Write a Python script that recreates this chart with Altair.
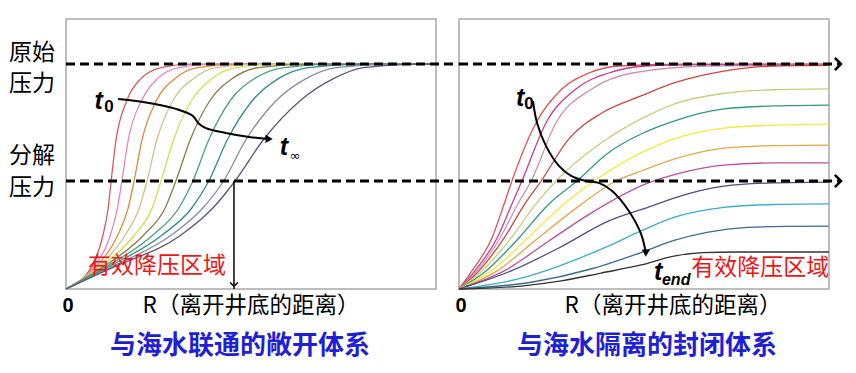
import altair as alt
import pandas as pd

# ---------------- data (x: distance 0-100, y: pressure 0-100) ----------------
P_ORIG = 83.3   # 原始压力
P_DEC = 40.0    # 分解压力

# Left panel (open system): pressure levels and x positions of each curve at those levels
left_levels = [0, 8, 20, 30, 40, 55, 70, 78, 82, 83.3]
left_names = ["L1", "L2", "L3", "L4", "L5", "L6", "L7", "L8", "L9", "L10"]
left_colors = ["#d65a5a", "#e284c8", "#e08a3c", "#d6bf8e", "#cfe050",
               "#8c7a48", "#4aa37c", "#2f8c8a", "#8a8aa6", "#5a5878"]
left_x = [
    [0, 6.8, 10.0, 11.4, 12.2, 13.5, 16.5, 20.3, 25.7, 33.8],
    [0, 7.3, 12.0, 13.9, 15.1, 16.8, 20.5, 24.8, 30.5, 40.0],
    [0, 7.9, 14.0, 16.8, 18.4, 20.5, 24.5, 29.5, 35.5, 46.0],
    [0, 8.5, 16.0, 19.8, 21.9, 24.5, 29.0, 34.5, 40.5, 52.0],
    [0, 9.1, 18.5, 23.3, 25.7, 29.0, 34.0, 39.5, 46.0, 58.0],
    [0, 9.8, 21.0, 26.8, 29.7, 33.5, 39.0, 45.0, 52.0, 65.0],
    [0, 10.5, 23.5, 30.5, 34.3, 38.5, 44.5, 51.0, 59.0, 72.0],
    [0, 11.2, 26.0, 34.0, 38.6, 43.5, 50.5, 57.5, 65.5, 80.0],
    [0, 12.0, 28.5, 37.0, 42.6, 48.5, 57.0, 65.0, 73.0, 88.0],
    [0, 12.7, 31.1, 39.7, 45.7, 53.2, 63.5, 72.4, 80.3, 94.6],
]

# Right panel (closed system): each curve as x list and y list
right_names = ["R1", "R2", "R3", "R4", "R5", "R6", "R7", "R8", "R9", "R10", "R11", "R12", "R13"]
right_colors = ["#d9534f", "#c23a9e", "#c895b0", "#c9473d", "#cccc80", "#2f9a7c", "#f4ea3c",
                "#e3a648", "#b8509e", "#50507e", "#3aaccc", "#3c6c8c", "#333333"]
right_x = [
    [0, 3.5, 8.9, 12.2, 14.3, 20.8, 27.8, 35.1, 43.2, 60.0, 100],
    [0, 4.3, 10.3, 14.3, 17.0, 23.5, 31.6, 40.5, 50.5, 65.4, 100],
    [0, 4.9, 11.1, 15.9, 19.5, 26.2, 35.9, 46.8, 67.3, 100],
    [0, 5.4, 12.2, 17.8, 22.2, 29.7, 38.6, 49.2, 58.1, 71.6, 85.1, 100],
    [0, 6.2, 14.1, 20.8, 26.2, 37.8, 49.2, 58.1, 71.6, 85.1, 100],
    [0, 7.3, 16.2, 24.3, 31.9, 40.3, 49.2, 58.1, 71.6, 85.1, 100],
    [0, 8.6, 18.6, 28.4, 36.5, 49.2, 58.1, 71.6, 85.1, 100],
    [0, 10.3, 21.4, 32.4, 42.4, 49.2, 58.1, 71.6, 85.1, 100],
    [0, 12.2, 24.3, 35.7, 50.5, 60.0, 71.6, 85.1, 100],
    [0, 14.1, 27.0, 40.5, 51.4, 58.1, 71.6, 85.1, 100],
    [0, 16.8, 27.0, 40.5, 49.2, 58.1, 71.6, 85.1, 100],
    [0, 19.5, 35.9, 49.2, 58.1, 67.0, 78.0, 90.0, 100],
    [0, 16.8, 27.6, 38.4, 49.2, 58.1, 66.0, 75.0, 100],
]
right_y = [
    [0, 6.7, 18.9, 31.5, 40.0, 61.5, 74.1, 80.0, 82.6, 83.3, 83.3],
    [0, 6.7, 18.9, 31.5, 40.0, 61.5, 74.1, 80.0, 82.6, 83.1, 83.2],
    [0, 6.7, 18.9, 31.5, 40.0, 61.5, 74.1, 80.0, 82.6, 83.0],
    [0, 6.7, 18.9, 31.5, 40.0, 55.6, 65.2, 71.5, 76.3, 80.7, 82.6, 82.8],
    [0, 6.7, 18.9, 31.5, 40.0, 53.5, 63.0, 68.5, 72.5, 73.8, 74.1],
    [0, 6.7, 18.9, 31.5, 40.0, 50.4, 57.4, 62.2, 66.7, 67.8, 68.1],
    [0, 6.7, 18.9, 31.5, 40.0, 50.4, 55.6, 59.6, 60.7, 61.1],
    [0, 6.7, 18.9, 30.7, 40.0, 43.7, 48.1, 52.2, 53.1, 53.3],
    [0, 6.7, 17.8, 28.1, 38.9, 43.0, 45.9, 46.7, 46.7],
    [0, 6.7, 15.2, 25.2, 30.4, 33.7, 38.1, 39.3, 39.6],
    [0, 4.0, 8.5, 16.0, 21.5, 26.5, 30.2, 31.3, 31.5],
    [0, 2.5, 7.5, 13.5, 18.0, 21.0, 22.8, 23.2, 23.3],
    [0, 1.1, 3.0, 5.9, 8.9, 12.2, 13.5, 13.7, 13.7],
]

# annotation arrows (t0 -> t_inf, t0 -> t_end)
left_arrow_x = [14.1, 20.8, 29.7, 34.3, 35.7, 37.8, 43.2, 49.5, 54.9]
left_arrow_y = [70.4, 69.3, 66.7, 64.1, 61.5, 59.6, 57.8, 56.3, 55.6]
right_arrow_x = [20.0, 21.1, 23.5, 27.0, 30.3, 34.3, 37.8, 41.4, 45.9, 49.2, 50.5]
right_arrow_y = [69.6, 61.5, 53.0, 45.6, 41.9, 40.0, 39.3, 36.3, 28.9, 20.4, 13.3]
drop_x = 45.4   # effective depressurization radius (left)

# ---------------- build tables ----------------
rows = []
for n, c, xs_ in zip(left_names, left_colors, left_x):
    for xv, yv in zip(xs_ + [100], left_levels + [P_ORIG]):
        rows.append({"curve": n, "col": c, "x": xv, "y": yv})
left_df = pd.DataFrame(rows)

rows = []
for n, c, xs_, ys_ in zip(right_names, right_colors, right_x, right_y):
    for xv, yv in zip(xs_, ys_):
        rows.append({"curve": n, "col": c, "x": xv, "y": yv})
right_df = pd.DataFrame(rows)

levels_df = pd.DataFrame({"p": [P_ORIG, P_DEC]})

W, H = 370, 270
GAP = 23
XS = alt.Scale(domain=[0, 100], nice=False, zero=False)
YS = alt.Scale(domain=[0, 100], nice=False, zero=False)
CJK = "Noto Sans CJK SC"


def curve_layer(df):
    return alt.Chart(df).mark_line(strokeWidth=1.3, interpolate="monotone").encode(
        x=alt.X("x:Q", scale=XS, axis=None),
        y=alt.Y("y:Q", scale=YS, axis=None),
        detail="curve:N",
        color=alt.Color("col:N", scale=None),
    )


def arrow_layer(ax, ay, head_shape):
    d = pd.DataFrame({"x": ax, "y": ay, "i": list(range(len(ax)))})
    line = alt.Chart(d).mark_line(color="black", strokeWidth=2, interpolate="catmull-rom").encode(
        x=alt.X("x:Q", scale=XS, axis=None), y=alt.Y("y:Q", scale=YS, axis=None), order="i:Q")
    head = alt.Chart(d.tail(1)).mark_point(shape=head_shape, filled=True, color="black", size=70, opacity=1).encode(
        x=alt.X("x:Q", scale=XS, axis=None), y=alt.Y("y:Q", scale=YS, axis=None))
    return line + head


def dash_layer(x2px):
    return alt.Chart(levels_df).mark_rule(strokeDash=[9, 5], strokeWidth=3, color="black").encode(
        y=alt.Y("p:Q", scale=YS, axis=None), x=alt.value(0), x2=alt.value(x2px))


def dtext(items, **kw):
    d = pd.DataFrame(items, columns=["x", "y", "t"])
    return alt.Chart(d).mark_text(**kw).encode(
        x=alt.X("x:Q", scale=XS, axis=None), y=alt.Y("y:Q", scale=YS, axis=None), text="t:N")


def ptext(x, y, t, **kw):
    return alt.Chart(pd.DataFrame({"t": [t]})).mark_text(**kw).encode(
        x=alt.value(x), y=alt.value(y), text="t:N")


tbig = dict(font="Liberation Sans", fontSize=25, fontWeight="bold", fontStyle="italic", color="black")
tsub = dict(font="Liberation Sans", fontSize=17, fontWeight="bold", color="black")
red_kw = dict(font=CJK, fontSize=23, color="#f01515")
side_kw = dict(font=CJK, fontSize=23, color="black")
rlab_kw = dict(font=CJK, fontSize=22.5, color="black")
title_kw = dict(font=CJK, fontSize=26, fontWeight="bold", color="#1f1fd6")
zero_kw = dict(font="Liberation Sans", fontSize=20, fontWeight="bold", color="black")

# ---------------- left panel ----------------
drop_df = pd.DataFrame({"x": [drop_x], "y": [P_DEC], "y2": [0.0], "yh": [1.0]})
drop = alt.Chart(drop_df).mark_rule(color="black", strokeWidth=1.5).encode(
    x=alt.X("x:Q", scale=XS, axis=None), y=alt.Y("y:Q", scale=YS, axis=None), y2="y2:Q")
drop_head = alt.Chart(drop_df).mark_point(shape="M-1,-1L0,0L1,-1", filled=False, color="black",
                                          strokeWidth=1.5, size=60, opacity=1).encode(
    x=alt.X("x:Q", scale=XS, axis=None), y=alt.Y("yh:Q", scale=YS, axis=None))

left = alt.layer(
    curve_layer(left_df),
    dash_layer(W + GAP),
    drop, drop_head,
    arrow_layer(left_arrow_x, left_arrow_y, "triangle-right"),
    dtext([[8.8, 69.6, "t"], [58.9, 52.6, "t"]], **tbig),
    dtext([[11.6, 67.4, "0"]], **tsub),
    dtext([[61.9, 49.3, "∞"]], font="DejaVu Sans", fontSize=13, fontStyle="italic", color="black"),
    dtext([[24.6, 8.5, "有效降压区域"]], **red_kw),
    ptext(-34, 34, "原始", **side_kw),
    ptext(-34, 65, "压力", **side_kw),
    ptext(-34, 137, "分解", **side_kw),
    ptext(-34, 169, "压力", **side_kw),
    ptext(2, 287, "0", **zero_kw),
    ptext(185, 287, "R（离开井底的距离）", **rlab_kw),
    ptext(174, 327, "与海水联通的敞开体系", **title_kw),
).properties(width=W, height=H)

# ---------------- right panel ----------------
chev = alt.Chart(levels_df).mark_point(shape="M-1,-1L0,0L-1,1", filled=False, color="black",
                                       strokeWidth=2.5, size=150, opacity=1).encode(
    y=alt.Y("p:Q", scale=YS, axis=None), x=alt.value(382))

right = alt.layer(
    curve_layer(right_df),
    dash_layer(380),
    chev,
    arrow_layer(right_arrow_x, right_arrow_y, "triangle-down"),
    dtext([[16.5, 70.7, "t"], [53.8, 6.3, "t"]], **tbig),
    dtext([[18.9, 68.6, "0"]], **tsub),
    dtext([[58.7, 3.3, "end"]], font="Liberation Sans", fontSize=16, fontWeight="bold",
          fontStyle="italic", color="black"),
    dtext([[81.4, 7.8, "有效降压区域"]], **red_kw),
    ptext(2, 287, "0", **zero_kw),
    ptext(214, 287, "R（离开井底的距离）", **rlab_kw),
    ptext(188, 327, "与海水隔离的封闭体系", **title_kw),
).properties(width=W, height=H)

chart = alt.hconcat(left, right, spacing=GAP, bounds="flush").properties(
    padding={"left": 0, "top": 10, "right": 0, "bottom": 0}
).configure_view(stroke="#a8a8a8", strokeWidth=1.5)

chart.save("out.html", embed_options={"renderer": "svg", "actions": False})
